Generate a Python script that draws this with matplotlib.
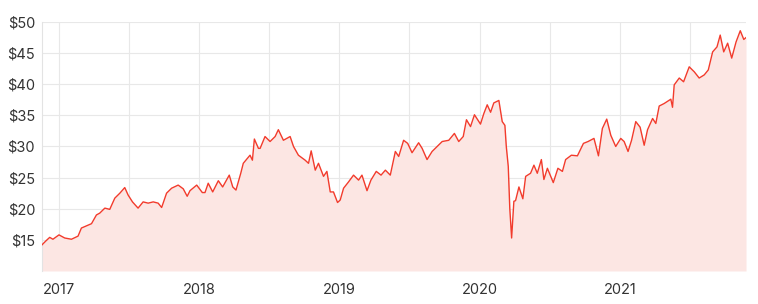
import matplotlib
matplotlib.use("Agg")
import matplotlib.pyplot as plt
import numpy as np

#---------------------------------------------------------data

# time as decimal years, price in dollars
years = [2016.881, 2016.912, 2016.936, 2016.959, 2017.002, 2017.043, 2017.091, 2017.138,
         2017.162, 2017.193, 2017.234, 2017.269, 2017.293, 2017.329, 2017.364, 2017.400,
         2017.436, 2017.471, 2017.495, 2017.526, 2017.566, 2017.602, 2017.638, 2017.674,
         2017.709, 2017.734, 2017.769, 2017.805, 2017.852, 2017.888, 2017.916, 2017.936,
         2017.984, 2018.024, 2018.043, 2018.066, 2018.098, 2018.138, 2018.169, 2018.216,
         2018.241, 2018.264, 2018.298, 2018.316, 2018.364, 2018.381, 2018.395, 2018.424,
         2018.436, 2018.471, 2018.507, 2018.543, 2018.566, 2018.602, 2018.650, 2018.674,
         2018.709, 2018.757, 2018.781, 2018.800, 2018.829, 2018.852, 2018.888, 2018.912,
         2018.936, 2018.959, 2018.988, 2019.007, 2019.031, 2019.066, 2019.102, 2019.138,
         2019.162, 2019.198, 2019.226, 2019.264, 2019.298, 2019.329, 2019.364, 2019.400,
         2019.424, 2019.459, 2019.488, 2019.519, 2019.566, 2019.591, 2019.626, 2019.662,
         2019.698, 2019.734, 2019.781, 2019.821, 2019.852, 2019.884, 2019.907, 2019.936,
         2019.964, 2020.007, 2020.031, 2020.055, 2020.079, 2020.102, 2020.138, 2020.162,
         2020.181, 2020.191, 2020.205, 2020.216, 2020.229, 2020.245, 2020.257, 2020.281,
         2020.309, 2020.329, 2020.364, 2020.388, 2020.412, 2020.441, 2020.459, 2020.484,
         2020.526, 2020.559, 2020.591, 2020.614, 2020.655, 2020.698, 2020.741, 2020.774,
         2020.816, 2020.848, 2020.876, 2020.907, 2020.936, 2020.971, 2021.007, 2021.031,
         2021.059, 2021.084, 2021.114, 2021.145, 2021.174, 2021.198, 2021.234, 2021.257,
         2021.281, 2021.316, 2021.364, 2021.376, 2021.388, 2021.424, 2021.455, 2021.495,
         2021.531, 2021.566, 2021.602, 2021.631, 2021.662, 2021.693, 2021.716, 2021.741,
         2021.769, 2021.798, 2021.829, 2021.859, 2021.884, 2021.900]

price = [14.2, 14.9, 15.4, 15.1, 15.8, 15.3, 15.1, 15.6,
         16.9, 17.2, 17.6, 19.0, 19.3, 20.1, 19.9, 21.7,
         22.5, 23.4, 22.2, 21.1, 20.1, 21.1, 20.9, 21.1,
         20.9, 20.2, 22.5, 23.3, 23.8, 23.2, 22.0, 22.9,
         23.8, 22.6, 22.6, 24.1, 22.7, 24.5, 23.5, 25.4,
         23.5, 23.0, 25.7, 27.3, 28.6, 27.8, 31.2, 29.7,
         29.7, 31.6, 30.8, 31.6, 32.7, 31.0, 31.6, 30.0,
         28.6, 27.8, 27.3, 29.3, 26.2, 27.3, 25.2, 26.0,
         22.7, 22.7, 21.0, 21.4, 23.3, 24.3, 25.4, 24.6,
         25.4, 22.9, 24.6, 26.0, 25.4, 26.2, 25.4, 29.2,
         28.4, 31.0, 30.5, 29.0, 30.6, 29.7, 27.9, 29.2,
         30.0, 30.8, 31.0, 32.1, 30.8, 31.6, 34.3, 33.2,
         35.1, 33.6, 35.3, 36.7, 35.5, 37.0, 37.4, 34.0,
         33.4, 30.0, 26.8, 20.0, 15.3, 21.2, 21.3, 23.5,
         21.6, 25.2, 25.7, 27.0, 25.7, 27.9, 24.7, 26.5,
         24.2, 26.5, 26.0, 27.9, 28.6, 28.5, 30.5, 30.8,
         31.3, 28.5, 32.9, 34.4, 31.8, 30.0, 31.3, 30.8,
         29.2, 31.0, 34.0, 33.1, 30.2, 32.7, 34.5, 33.7,
         36.5, 36.9, 37.6, 36.3, 39.9, 41.0, 40.4, 42.8,
         42.0, 41.0, 41.5, 42.3, 45.2, 46.0, 47.9, 45.2,
         46.6, 44.2, 46.8, 48.6, 47.2, 47.5]

year_labels = ['2017', '2018', '2019', '2020', '2021']
price_ticks = [15, 20, 25, 30, 35, 40, 45, 50]

#---------------------------------------------------------plot

plt.rcParams['font.family'] = ['Inter', 'DejaVu Sans']

fig = plt.figure(figsize=(7.58, 3.04), dpi=100)
ax = fig.add_axes([0.0554, 0.1086, 0.9288, 0.819])

line_col = '#f23b2c'
fill_col = '#fce6e3'

ax.fill_between(years, price, 10, color=fill_col, lw=0, zorder=1)
ax.plot(years, price, color=line_col, lw=1.0, zorder=3)

ax.set_xlim(years[0], years[-1])
ax.set_ylim(10, 50)

major = [int(y) for y in year_labels]
ax.set_xticks(major)
ax.set_xticklabels(year_labels)
ax.set_xticks([y + 0.5 for y in major] , minor=True)
ax.set_yticks(price_ticks)
ax.set_yticklabels(['$' + str(p) for p in price_ticks])

ax.grid(True, which='both', color='#e8e8e8', lw=0.8, zorder=0)
ax.axhline(10, color='#e8e8e8', lw=0.8, zorder=0)
ax.set_axisbelow(True)

for s in ['top', 'right', 'bottom']:
    ax.spines[s].set_visible(False)
ax.spines['left'].set_color('#e3e3e3')
ax.spines['left'].set_linewidth(0.8)

ax.tick_params(axis='both', which='both', length=0, labelsize=10.5, colors='#333333')
ax.tick_params(axis='x', pad=9)
ax.tick_params(axis='y', pad=5)

fig.savefig('out.png', dpi=100)
